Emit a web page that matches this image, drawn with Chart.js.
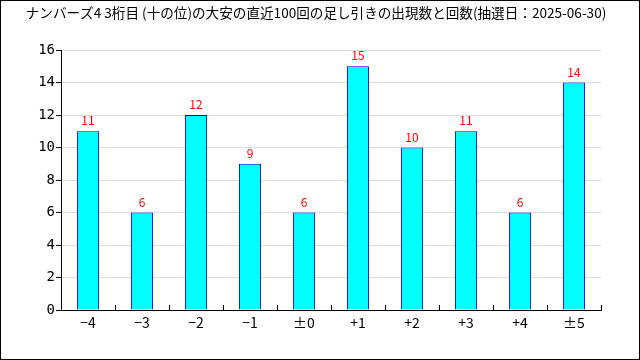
<!DOCTYPE html>
<html>
<head>
<meta charset="utf-8">
<script src="https://cdn.jsdelivr.net/npm/chart.js@4/dist/chart.umd.min.js"></script>
<style>
  body { margin: 0; background: #fff; }
  #wrap { width: 640px; height: 360px; }
</style>
</head>
<body>
<div id="wrap"><canvas id="chart" width="640" height="360"></canvas></div>
<script>
var titleText = 'ナンバーズ4 3桁目 (十の位)の大安の直近100回の足し引きの出現数と回数(抽選日：2025-06-30)';
var categories = ['−4', '−3', '−2', '−1', '±0', '+1', '+2', '+3', '+4', '±5'];
var counts = [11, 6, 12, 9, 6, 15, 10, 11, 6, 14];
var yTicks = [0, 2, 4, 6, 8, 10, 12, 14, 16];

var jpFont = '"Noto Sans CJK JP", sans-serif';
var numFont = '"DejaVu Sans Mono", "Liberation Mono", monospace';

// frame, title, value labels and the small upward x ticks
var extras = {
    id: 'extras',
    afterDraw: function(chart) {
        var ctx = chart.ctx;
        var area = chart.chartArea;
        ctx.save();
        ctx.strokeStyle = '#000';
        ctx.lineWidth = 1;
        ctx.strokeRect(0.5, 0.5, chart.width - 1, chart.height - 1);

        ctx.fillStyle = '#000';
        ctx.font = '13.6px ' + jpFont;
        ctx.textAlign = 'center';
        ctx.textBaseline = 'middle';
        ctx.fillText(titleText, 316, 13);

        var xs = chart.scales.x;
        ctx.beginPath();
        for (var i = 1; i <= categories.length; i++) {
            var px = Math.round((xs.getPixelForValue(i - 1) + xs.getPixelForValue(i)) / 2);
            if (i == categories.length) px = Math.round(area.right);
            ctx.moveTo(px + 0.5, area.bottom);
            ctx.lineTo(px + 0.5, area.bottom - 5);
        }
        ctx.stroke();

        ctx.fillStyle = '#ff0000';
        ctx.font = '12px ' + jpFont;
        ctx.textBaseline = 'alphabetic';
        chart.getDatasetMeta(0).data.forEach(function(bar, i) {
            ctx.fillText(counts[i], bar.x, bar.y - 6);
        });
        ctx.restore();
    }
};

new Chart(document.getElementById('chart'), {
    type: 'bar',
    data: {
        labels: categories,
        datasets: [{
            data: counts,
            backgroundColor: '#00ffff',
            borderColor: '#0000ff',
            borderWidth: 1,
            categoryPercentage: 1,
            barPercentage: 0.41
        }]
    },
    options: {
        responsive: false,
        animation: false,
        layout: {
            padding: { left: 0, right: 39, top: 50, bottom: 0 }
        },
        plugins: {
            legend: { display: false },
            tooltip: { enabled: false }
        },
        scales: {
            x: {
                grid: { display: false },
                border: { color: '#000', width: 1 },
                ticks: {
                    color: '#000',
                    font: { family: jpFont, size: 14 },
                    padding: -4
                },
                afterFit: function(scale) { scale.height = 50; }
            },
            y: {
                min: 0,
                max: 16,
                afterBuildTicks: function(scale) {
                    scale.ticks = yTicks.map(function(v) { return { value: v }; });
                },
                grid: {
                    color: '#dddddd',
                    tickColor: '#000',
                    tickLength: 5
                },
                border: { color: '#000', width: 1 },
                ticks: {
                    color: '#000',
                    font: { family: numFont, size: 14 },
                    padding: 1
                },
                afterFit: function(scale) { scale.width = 61; }
            }
        }
    },
    plugins: [extras]
});
</script>
</body>
</html>
